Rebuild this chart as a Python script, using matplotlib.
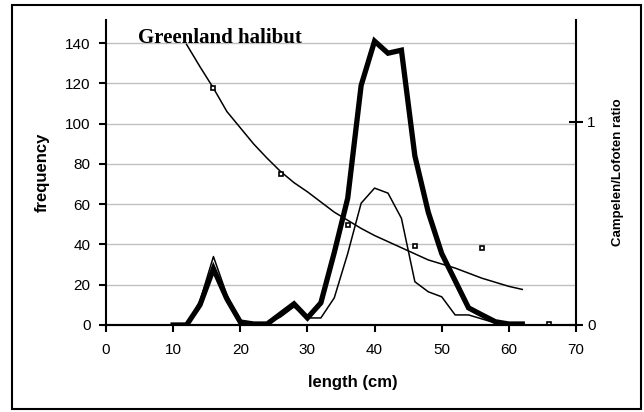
import numpy as np
import matplotlib
matplotlib.use("Agg")
import matplotlib.pyplot as plt
from matplotlib.patches import Rectangle

plt.rcParams.update({"font.family": ["Liberation Sans", "DejaVu Sans"], "font.size": 10})

# length classes (cm)
length = [10, 12, 14, 16, 18, 20, 22, 24, 26, 28, 30, 32, 34, 36, 38, 40, 42, 44,
          46, 48, 50, 52, 54, 56, 58, 60, 62]
campelen = [0, 0, 10, 28, 13, 1.5, 0.5, 0.5, 5.5, 10.5, 3.5, 11, 36, 63, 119, 141,
            135, 136.5, 84, 56, 35.5, 22, 8.5, 5, 1.6, 0.5, 0.5]
lofoten = [0, 0, 12, 34, 15, 2, 1, 1, 4, 9, 3.5, 3.5, 13.5, 35.5, 60.5, 68, 65.5, 53,
           21.5, 16.5, 14, 5, 5, 3, 1, 0.5, 0.5]

# fitted ratio curve and observed ratios
fit_len = [12, 14, 16, 18, 20, 22, 24, 26, 28, 30, 32, 34, 36, 38, 40, 42, 44, 46,
           48, 50, 52, 54, 56, 58, 60, 62]
fit_ratio = [1.38, 1.27, 1.165, 1.05, 0.97, 0.89, 0.82, 0.755, 0.70, 0.655, 0.605,
             0.555, 0.515, 0.475, 0.44, 0.41, 0.38, 0.35, 0.32, 0.30, 0.28, 0.255,
             0.23, 0.21, 0.19, 0.175]
obs_len = [16, 26, 36, 46, 56, 66]
obs_ratio = [1.165, 0.745, 0.49, 0.39, 0.38, 0.005]

fig = plt.figure(figsize=(6.44, 4.12), dpi=100)
fig.patches.append(Rectangle((12/644, 1-409/412), 629/644, 404/412, transform=fig.transFigure,
                             fill=False, ec="black", lw=1.5))
ax = fig.add_axes([106/644, 1-325/412, 470/644, 305/412])
ax2 = ax.twinx()

for y in range(20, 141, 20):
    ax.axhline(y, color="#c0c0c0", lw=1, zorder=0)
ax.plot(length, campelen, color="black", lw=3.8, solid_joinstyle="miter")
ax.plot(length, lofoten, color="black", lw=1.1)
ax2.plot(fit_len, fit_ratio, color="black", lw=1.1)
ax2.plot(obs_len, obs_ratio, "s", ms=3, mfc="white", mec="black", mew=1.2, ls="none")

ax.set_xlim(0, 70)
ax.set_ylim(0, 151.5)
ax2.set_ylim(0, 1.5)
ax.set_xticks(range(0, 71, 10))
ax.set_yticks(range(0, 141, 20))
ax2.set_yticks([0, 1])
for s in ["top", "right"]:
    ax.spines[s].set_visible(False)
ax2.spines["top"].set_visible(False)
ax2.spines["left"].set_visible(False)
for a in (ax, ax2):
    for sp in a.spines.values():
        sp.set_linewidth(1.5)
ax.tick_params(axis="both", direction="out", length=5, width=1.5, labelsize=11)
ax.tick_params(axis="y", pad=6)
ax.tick_params(axis="x", pad=8)
ax2.tick_params(axis="y", direction="inout", length=10, width=1.5, labelsize=11, pad=3)

ax.set_xlabel("length (cm)", fontweight="bold", fontsize=12)
ax.xaxis.set_label_coords((353 - 106) / 470, -(383 - 325) / 305)
ax.xaxis.label.set_va("center")
ax.set_ylabel("frequency", fontweight="bold", fontsize=12, labelpad=11)
ax2.set_ylabel("Campelen/Lofoten ratio", fontweight="bold", fontsize=9.5, labelpad=12)
ax.text(4.7, 140.3, "Greenland halibut", family=["Liberation Serif", "DejaVu Serif"],
        fontweight="bold", fontsize=15, va="baseline", ha="left")

fig.savefig("out.png", dpi=100)
